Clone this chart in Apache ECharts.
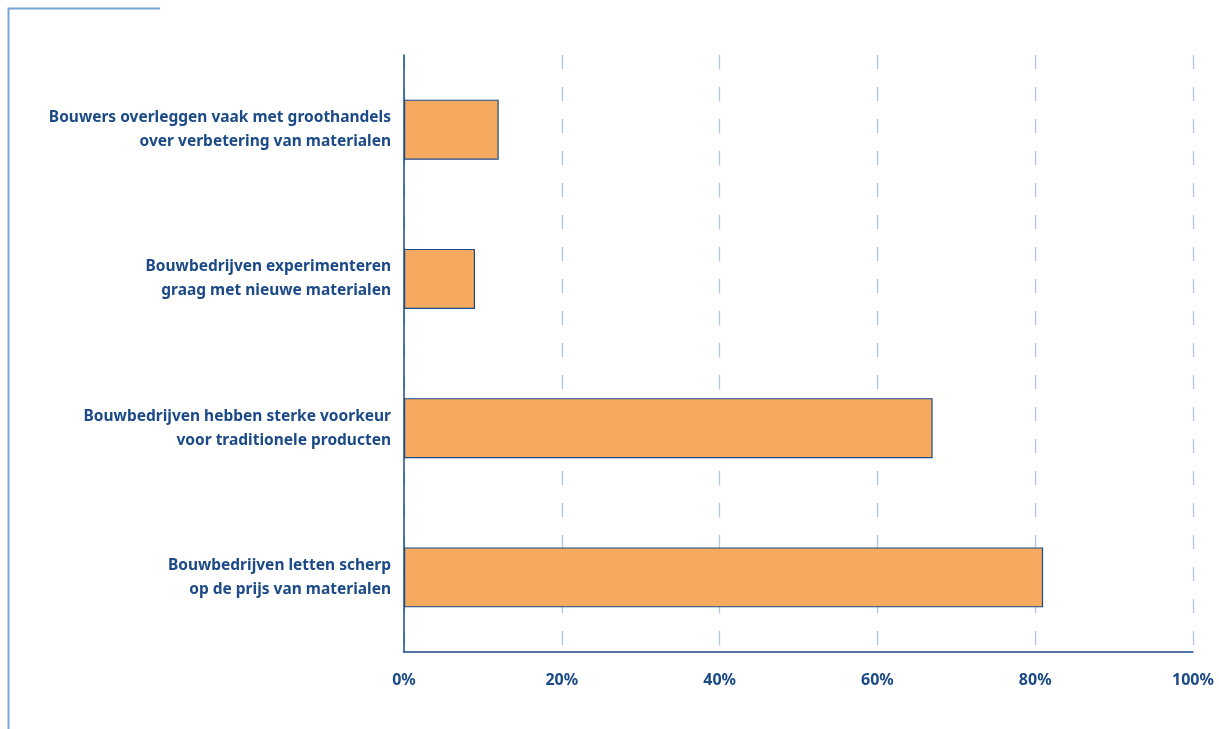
<!DOCTYPE html>
<html>
<head>
<meta charset="utf-8">
<script src="https://cdn.jsdelivr.net/npm/echarts@6/dist/echarts.min.js"></script>
<style>
  html, body { margin: 0; padding: 0; background: #fff; }
  #chart { width: 1219px; height: 729px; }
</style>
</head>
<body>
<div id="chart"></div>
<script>
// categorieën van boven naar beneden
var categories = [
  "Bouwers overleggen vaak met groothandels\nover verbetering van materialen",
  "Bouwbedrijven experimenteren\ngraag met nieuwe materialen",
  "Bouwbedrijven hebben sterke voorkeur\nvoor traditionele producten",
  "Bouwbedrijven letten scherp\nop de prijs van materialen"
];
var values = [12, 9, 67, 81];
var tickValues = [0, 20, 40, 60, 80, 100];

var darkBlue = "#1b4a87";
var myChart = echarts.init(document.getElementById("chart"));

var option = {
  animation: false,
  grid: {
    left: 404,
    right: 26,
    top: 55,
    bottom: 77
  },
  graphic: [
    {
      // kader linksboven
      type: "polyline",
      shape: { points: [[160, 8.5], [8.5, 8.5], [8.5, 729]] },
      style: { stroke: "#7ba7d7", lineWidth: 2, fill: null }
    }
  ],
  xAxis: {
    type: "value",
    min: tickValues[0],
    max: tickValues[tickValues.length - 1],
    interval: 20,
    axisLine: { show: true, lineStyle: { color: darkBlue, width: 1.5 } },
    axisTick: { show: false },
    axisLabel: {
      margin: 20,
      color: darkBlue,
      fontFamily: "Noto Sans",
      fontWeight: "bold",
      fontSize: 16,
      formatter: function (v) { return v + "%"; }
    },
    splitLine: {
      show: true,
      lineStyle: { color: "#aec6e8", width: 1.3, type: [14, 18] }
    }
  },
  yAxis: {
    type: "category",
    inverse: true,
    data: categories,
    axisLine: { show: true, lineStyle: { color: darkBlue, width: 1.5 } },
    axisTick: { show: false },
    axisLabel: {
      margin: 13,
      color: darkBlue,
      fontFamily: "Noto Sans",
      fontWeight: "bold",
      fontSize: 15.5,
      lineHeight: 24,
      align: "right"
    }
  },
  series: [
    {
      type: "bar",
      data: values,
      barWidth: 60,
      itemStyle: {
        color: "#f5aa60",
        borderColor: darkBlue,
        borderWidth: 1.2
      }
    }
  ]
};

myChart.setOption(option);
</script>
</body>
</html>
